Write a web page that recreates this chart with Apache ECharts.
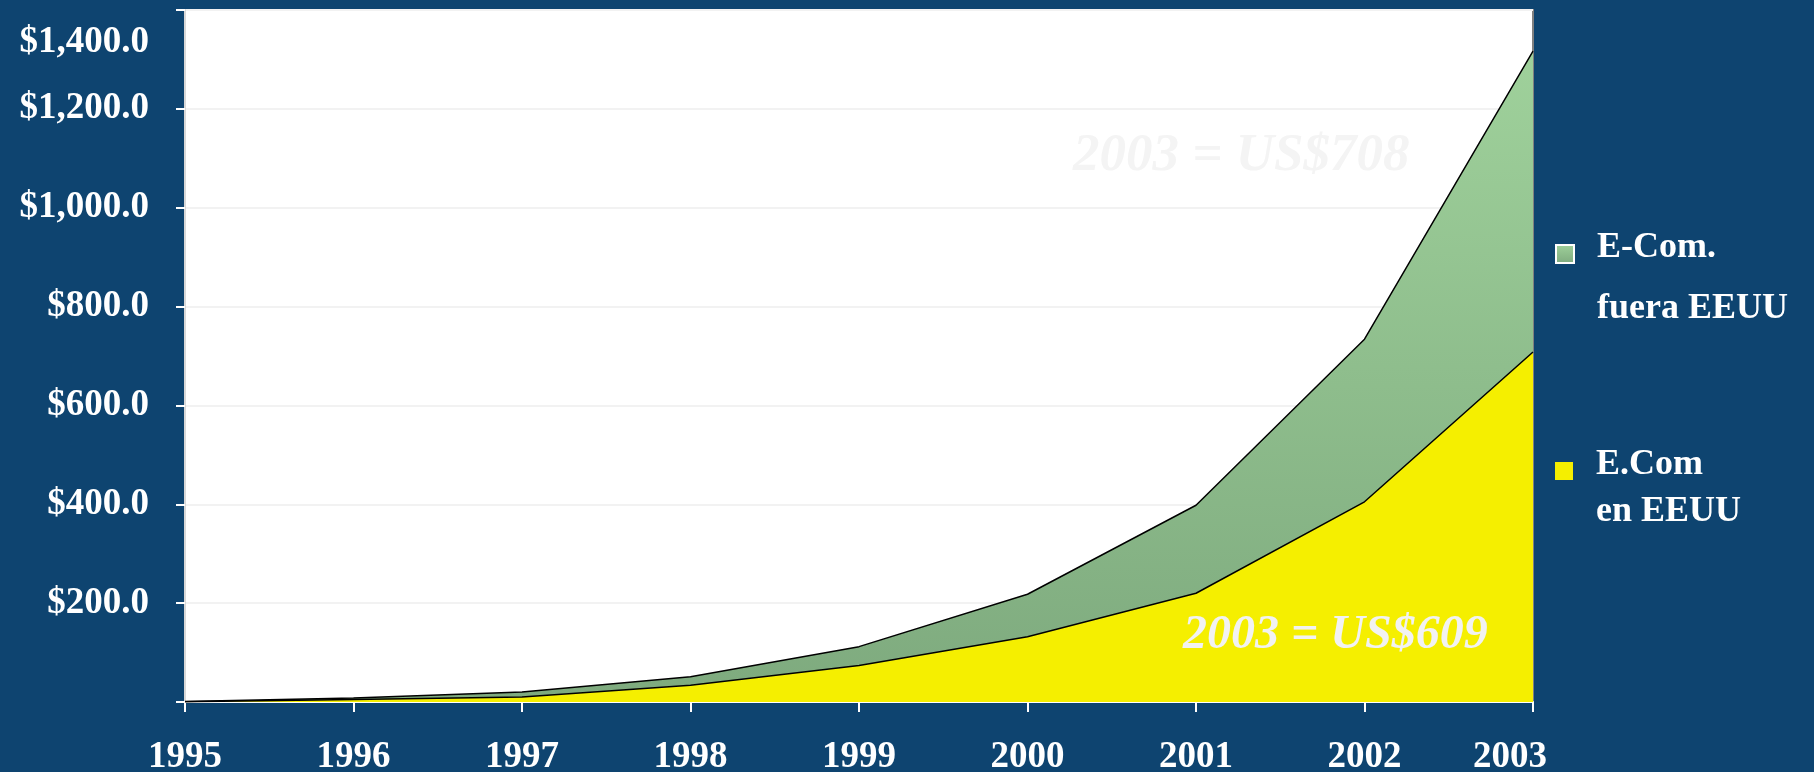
<!DOCTYPE html>
<html>
<head>
<meta charset="utf-8">
<title>E-Commerce 1995-2003</title>
<style>
  html, body { margin: 0; padding: 0; background: #0e4470; }
  #main { width: 1814px; height: 772px; }
</style>
</head>
<body>
<div id="main"></div>
<script src="https://cdn.jsdelivr.net/npm/echarts@6/dist/echarts.min.js"></script>
<script type="text/javascript">
    // datos (miles de millones US$)
    var years = ['1995', '1996', '1997', '1998', '1999', '2000', '2001', '2002', '2003'];
    var enEEUU = [0.5, 5, 10, 34, 74, 132, 220, 405, 708];
    var fueraEEUU = [0.5, 3, 10, 17, 38, 86, 178, 329, 609];
    var seriesNames = ['E.Com en EEUU', 'E-Com. fuera EEUU'];
    var notas = ['2003 = US$708', '2003 = US$609'];

    var fuente = 'Liberation Serif, Times New Roman, serif';
    var blanco = '#ffffff';

    function dinero(v) {
        return '$' + v.toLocaleString('en-US') + '.0';
    }

    function estilo(size, extra) {
        var s = { color: blanco, fontFamily: fuente, fontWeight: 'bold', fontSize: size };
        for (var k in extra) s[k] = extra[k];
        return s;
    }

    var verde = new echarts.graphic.LinearGradient(0, 0, 0, 1, [
        { offset: 0, color: '#9fd19b' },
        { offset: 1, color: '#7eaa7e' }
    ]);

    var myChart = echarts.init(document.getElementById('main'));
    var option = {
        backgroundColor: '#0e4470',
        animation: false,
        grid: {
            left: 185, right: 281, top: 10, bottom: 70,
            outerBoundsMode: 'none',
            containLabel: false,
            show: true,
            backgroundColor: '#ffffff',
            borderColor: '#808080',
            borderWidth: 2
        },
        legend: [
            {
                data: [{ name: seriesNames[1], icon: 'rect', itemStyle: { color: verde, borderColor: '#ffffff', borderWidth: 2 } }],
                orient: 'vertical',
                left: 1550, top: 170,
                itemWidth: 18, itemHeight: 18,
                // linea vacia arriba para que el icono quede a la altura de la 1a linea
                formatter: function () { return '{sp| }\n{t|E-Com.}\n{t|fuera EEUU}'; },
                textStyle: estilo(36, {
                    padding: [0, 0, 0, 18],
                    rich: {
                        sp: estilo(36, { lineHeight: 48 }),
                        t: estilo(36, { lineHeight: 61 })
                    }
                })
            },
            {
                data: [{ name: seriesNames[0], icon: 'rect', itemStyle: { color: '#f5ef00', borderWidth: 0 } }],
                orient: 'vertical',
                left: 1550, top: 401,
                itemWidth: 18, itemHeight: 18,
                formatter: function () { return '{sp| }\n{t|E.Com}\n{t|en EEUU}'; },
                textStyle: estilo(36, {
                    padding: [0, 0, 0, 18],
                    rich: {
                        sp: estilo(36, { lineHeight: 35 }),
                        t: estilo(36, { lineHeight: 47 })
                    }
                })
            }
        ],
        xAxis: {
            type: 'category',
            boundaryGap: false,
            data: years,
            axisLine: { lineStyle: { color: '#ffffff', width: 2 } },
            axisTick: { lineStyle: { color: '#ffffff', width: 2 }, length: 10, interval: 0 },
            axisLabel: estilo(37, {
                interval: 0,
                margin: 37,
                formatter: function (v) {
                    return v === '2003' ? '{ult|' + v + '}' : v;
                },
                rich: {
                    ult: estilo(37, { padding: [0, 46, 0, 0] })
                }
            }),
            splitLine: { show: false }
        },
        yAxis: {
            type: 'value',
            min: 0, max: 1400, interval: 200,
            axisLine: { show: true, lineStyle: { color: '#d8d8d8', width: 2 } },
            axisTick: { show: true, length: 9, lineStyle: { color: '#ffffff', width: 2 } },
            axisLabel: estilo(37, {
                margin: 36,
                formatter: function (v) {
                    if (v === 0) return '';
                    if (v === 1400) return '{top|' + dinero(v) + '}';
                    return dinero(v);
                },
                rich: {
                    top: estilo(37, { padding: [64, 0, 0, 0] })
                }
            }),
            splitLine: { lineStyle: { color: '#f2f2f2', width: 2 } }
        },
        series: [
            {
                name: seriesNames[0],
                type: 'line',
                stack: 'total',
                data: enEEUU,
                symbol: 'none',
                lineStyle: { color: '#000000', width: 1.5 },
                itemStyle: { color: '#f5ef00' },
                areaStyle: { color: '#f5ef00', opacity: 1 },
                z: 3
            },
            {
                name: seriesNames[1],
                type: 'line',
                stack: 'total',
                data: fueraEEUU,
                symbol: 'none',
                lineStyle: { color: '#000000', width: 1.5 },
                itemStyle: { color: verde },
                areaStyle: { color: verde, opacity: 1 },
                z: 2
            }
        ],
        graphic: [
            {
                type: 'text', left: 1073, top: 130, z: 10,
                style: { text: notas[0], fill: '#f4f4f4', font: 'italic bold 53px ' + fuente }
            },
            {
                type: 'text', left: 1183, top: 612, z: 10,
                style: { text: notas[1], fill: '#f2f2f2', font: 'italic bold 48px ' + fuente }
            }
        ]
    };
    myChart.setOption(option);
</script>
</body>
</html>
